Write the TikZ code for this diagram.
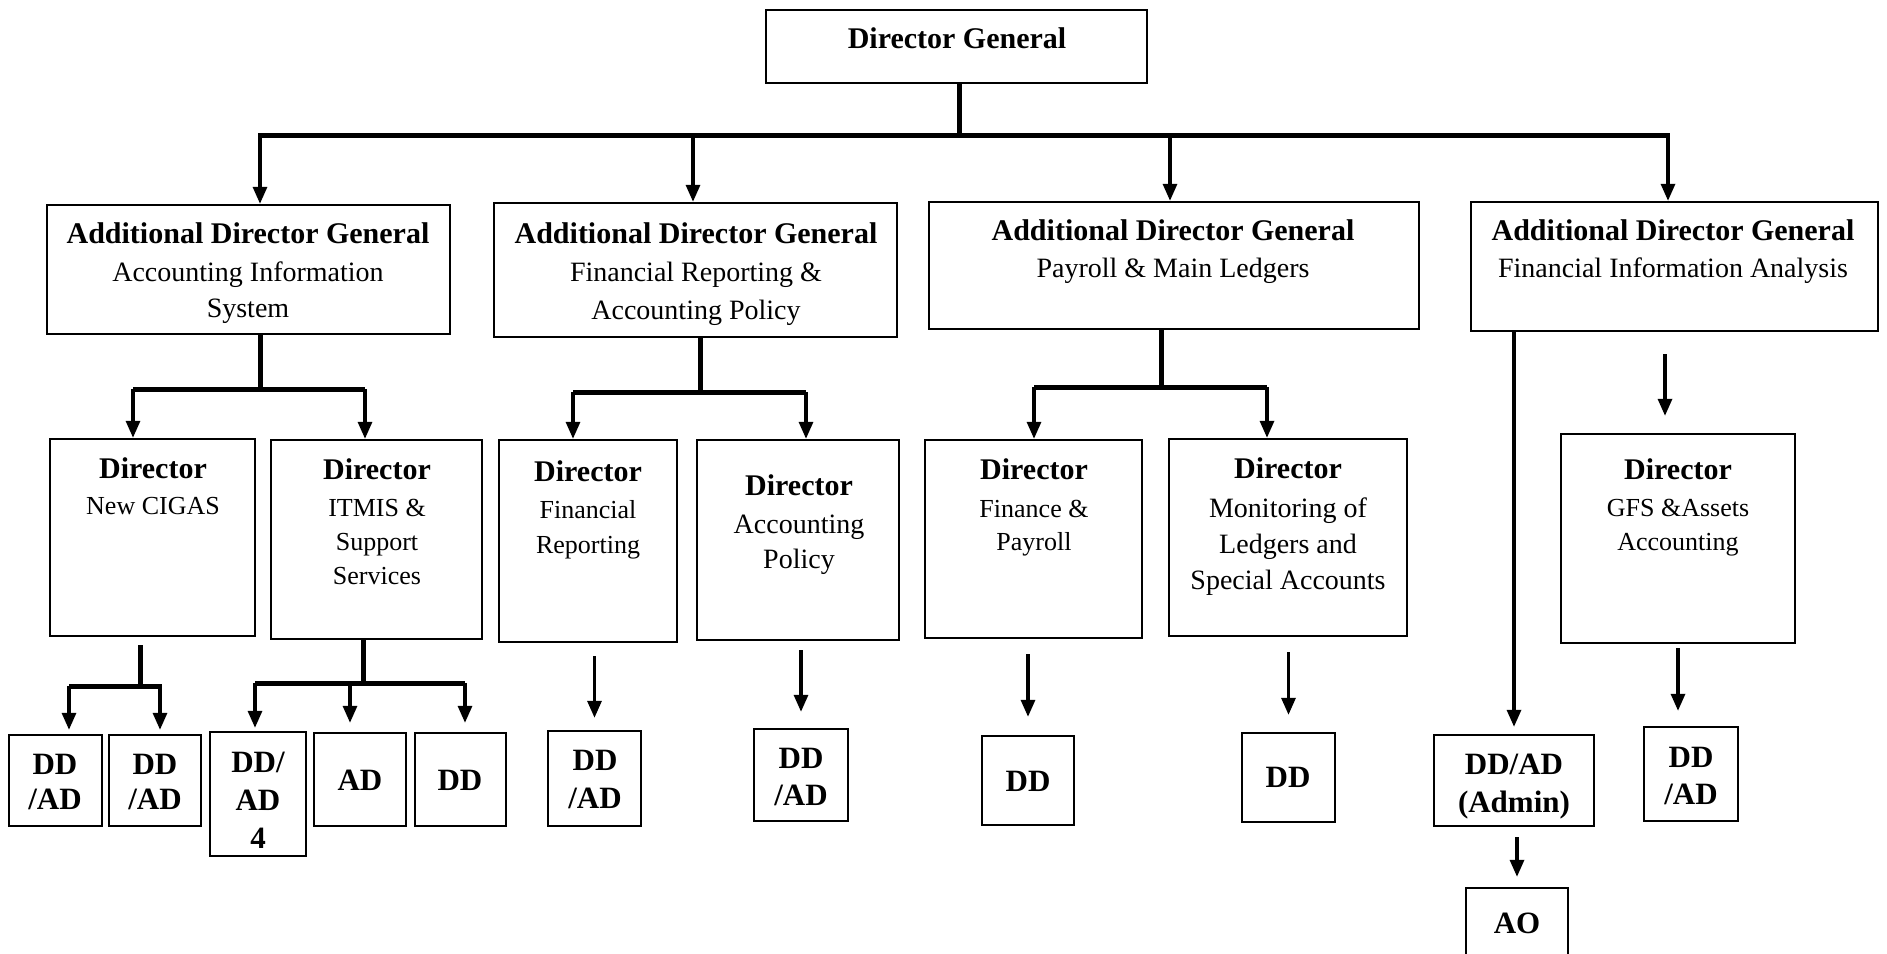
\documentclass[tikz,border=0pt]{standalone}
\usepackage{fontspec}
\setmainfont{Liberation Serif}
\usetikzlibrary{arrows.meta,fit}
\begin{document}
\begin{tikzpicture}[x=1pt,y=-1pt,
  box/.style={draw, line width=2.4pt, inner sep=0pt},
  hd/.style={font=\fontsize{30}{36}\selectfont\bfseries, anchor=base, inner sep=0pt},
  sub/.style={font=\fontsize{28}{34}\selectfont, anchor=base, inner sep=0pt},
  subs/.style={font=\fontsize{26}{32}\selectfont, anchor=base, inner sep=0pt},
  lf/.style={font=\fontsize{31}{37}\selectfont\bfseries, anchor=base, inner sep=0pt},
  arr/.style={line width=3.2pt, -{Triangle[length=17pt,width=14pt]}},
  stem/.style={line width=5pt},
]
\useasboundingbox (0,0) rectangle (1887,953);
\fill[white] (0,0) rectangle (1887,953);
\clip (0,0) rectangle (1887,953);

% boxes
\node[box, fit={(766,10) (1147,83)}] (dg) {};
\node[box, fit={(47,205) (450,334)}] (a1) {};
\node[box, fit={(494,203) (897,337)}] (a2) {};
\node[box, fit={(929,202) (1419,329)}] (a3) {};
\node[box, fit={(1471,202) (1878,331)}] (a4) {};
\node[box, fit={(50,439) (255,636)}] (nc) {};
\node[box, fit={(271,440) (482,639)}] (it) {};
\node[box, fit={(499,440) (677,642)}] (fr) {};
\node[box, fit={(697,440) (899,640)}] (ap) {};
\node[box, fit={(925,440) (1142,638)}] (fp) {};
\node[box, fit={(1169,439) (1407,636)}] (mo) {};
\node[box, fit={(1561,434) (1795,643)}] (gf) {};
\node[box, fit={(9,735) (102,826)}] (l1) {};
\node[box, fit={(109,735) (201,826)}] (l2) {};
\node[box, fit={(210,732) (306,856)}] (l3) {};
\node[box, fit={(314,733) (406,826)}] (l4) {};
\node[box, fit={(415,733) (506,826)}] (l5) {};
\node[box, fit={(548,731) (641,826)}] (l6) {};
\node[box, fit={(754,729) (848,821)}] (l7) {};
\node[box, fit={(982,736) (1074,825)}] (l8) {};
\node[box, fit={(1242,733) (1335,822)}] (l9) {};
\node[box, fit={(1434,735) (1594,826)}] (ad) {};
\node[box, fit={(1644,727) (1738,821)}] (l11) {};
\node[box, fit={(1466,888) (1568,975)}] (ao) {};

% texts
\node[hd] (dgt) at (957,48) {Director General};
\node[hd] (a1t1) at (248,243) {Additional Director General};
\node[sub] (a1t2) at (248,281) {Accounting Information};
\node[sub] (a1t3) at (248,317) {System};
\node[hd] (a2t1) at (696,243) {Additional Director General};
\node[sub] (a2t2) at (696,281) {Financial Reporting \&};
\node[sub] (a2t3) at (696,319) {Accounting Policy};
\node[hd] (a3t1) at (1173,240) {Additional Director General};
\node[sub] (a3t2) at (1173,277) {Payroll \& Main Ledgers};
\node[hd] (a4t1) at (1673,240) {Additional Director General};
\node[sub] (a4t2) at (1673,277) {Financial Information Analysis};

\node[hd] (nct1) at (153,478) {Director};
\node[subs] (nct2) at (153,514) {New CIGAS};
\node[hd] (itt1) at (377,479) {Director};
\node[subs] (itt2) at (377,516) {ITMIS \&};
\node[subs] (itt3) at (377,550) {Support};
\node[subs] (itt4) at (377,584) {Services};
\node[hd] (frt1) at (588,481) {Director};
\node[subs] (frt2) at (588,518) {Financial};
\node[subs] (frt3) at (588,553) {Reporting};
\node[hd] (apt1) at (799,495) {Director};
\node[sub] (apt2) at (799,533) {Accounting};
\node[sub] (apt3) at (799,568) {Policy};
\node[hd] (fpt1) at (1034,479) {Director};
\node[subs] (fpt2) at (1034,517) {Finance \&};
\node[subs] (fpt3) at (1034,550) {Payroll};
\node[hd] (mot1) at (1288,478) {Director};
\node[sub] (mot2) at (1288,517) {Monitoring of};
\node[sub] (mot3) at (1288,553) {Ledgers and};
\node[sub] (mot4) at (1288,589) {Special Accounts};
\node[hd] (gft1) at (1678,479) {Director};
\node[subs] (gft2) at (1678,516) {GFS \&Assets};
\node[subs] (gft3) at (1678,550) {Accounting};

\node[lf] (l1a) at (55,774) {DD};
\node[lf] (l1b) at (55,809) {/AD};
\node[lf] (l2a) at (155,774) {DD};
\node[lf] (l2b) at (155,809) {/AD};
\node[lf] (l3a) at (258,772) {DD/};
\node[lf] (l3b) at (258,810) {AD};
\node[lf] (l3c) at (258,848) {4};
\node[lf] (l4a) at (360,790) {AD};
\node[lf] (l5a) at (460,790) {DD};
\node[lf] (l6a) at (595,770) {DD};
\node[lf] (l6b) at (595,808) {/AD};
\node[lf] (l7a) at (801,768) {DD};
\node[lf] (l7b) at (801,805) {/AD};
\node[lf] (l8a) at (1028,791) {DD};
\node[lf] (l9a) at (1288,787) {DD};
\node[lf] (ada) at (1514,774) {DD/AD};
\node[lf] (adb) at (1514,812) {(Admin)};
\node[lf] (l11a) at (1691,767) {DD};
\node[lf] (l11b) at (1691,804) {/AD};
\node[lf] (aoa) at (1517,933) {AO};

% top bus
\coordinate (bus) at (959,135);
\coordinate (busL) at (258,135);
\coordinate (busR) at (1670,135);
\coordinate (b1) at (260,135);
\coordinate (b2) at (693,135);
\coordinate (b3) at (1170,135);
\coordinate (b4) at (1668,135);
\draw[stem] (bus |- dg.south) -- (bus);
\draw[stem] (busL) -- (busR);
\draw[arr] (b1) -- (b1 |- a1.north);
\draw[arr] (b2) -- (b2 |- a2.north);
\draw[arr] (b3) -- (b3 |- a3.north);
\draw[arr] (b4) -- (b4 |- a4.north);

% A1 group
\coordinate (j1) at (260,389);
\coordinate (j1l) at (133,389);
\coordinate (j1r) at (365,389);
\draw[stem] (j1 |- a1.south) -- (j1);
\draw[stem] (j1l) -- (j1r);
\draw[arr] (j1l) -- (j1l |- nc.north);
\draw[arr] (j1r) -- (j1r |- it.north);

% A2 group
\coordinate (j2) at (700,392);
\coordinate (j2l) at (573,392);
\coordinate (j2r) at (806,392);
\draw[stem] (j2 |- a2.south) -- (j2);
\draw[stem] (j2l) -- (j2r);
\draw[arr] (j2l) -- (j2l |- fr.north);
\draw[arr] (j2r) -- (j2r |- ap.north);

% A3 group
\coordinate (j3) at (1161,387);
\coordinate (j3l) at (1034,387);
\coordinate (j3r) at (1267,387);
\draw[stem] (j3 |- a3.south) -- (j3);
\draw[stem] (j3l) -- (j3r);
\draw[arr] (j3l) -- (j3l |- fp.north);
\draw[arr] (j3r) -- (j3r |- mo.north);

% New CIGAS group
\coordinate (j4) at (140,686);
\coordinate (j4l) at (69,686);
\coordinate (j4r) at (162,686);
\coordinate (j4a) at (160,686);
\draw[stem, shorten <=8pt] (j4 |- nc.south) -- (j4);
\draw[stem] (j4l) -- (j4r);
\draw[arr, shorten >=4pt] (j4l) -- (j4l |- l1.north);
\draw[arr, shorten >=4pt] (j4a) -- (j4a |- l2.north);

% ITMIS group
\coordinate (j5) at (363,683);
\coordinate (j5l) at (255,683);
\coordinate (j5m) at (350,683);
\coordinate (j5r) at (465,683);
\draw[stem] (j5 |- it.south) -- (j5);
\draw[stem] (j5l) -- (j5r);
\draw[arr, shorten >=3pt] (j5l) -- (j5l |- l3.north);
\draw[arr, shorten >=9pt] (j5m) -- (j5m |- l4.north);
\draw[arr, shorten >=9pt] (j5r) -- (j5r |- l5.north);

% single arrows
\draw[arr, shorten <=13pt, shorten >=12pt] (l6.north |- fr.south) -- (l6.north);
\draw[arr, shorten <=9pt, shorten >=16pt] (l7.north |- ap.south) -- (l7.north);
\draw[arr, shorten <=15pt, shorten >=18pt] (l8.north |- fp.south) -- (l8.north);
\draw[arr, shorten <=15pt, shorten >=17pt] (l9.north |- mo.south) -- (l9.north);
\draw[arr, shorten <=4pt, shorten >=15pt] (gf.south) -- (gf.south |- l11.north);
\coordinate (xf) at (1665,0);
\draw[arr, shorten <=22pt, shorten >=17pt] (xf |- a4.south) -- (xf |- gf.north);
\draw[arr, shorten >=7pt] (ad.north |- a4.south) -- (ad.north);
\draw[arr, shorten <=10pt, shorten >=10pt] (ao.north |- ad.south) -- (ao.north);
\end{tikzpicture}
\end{document}
